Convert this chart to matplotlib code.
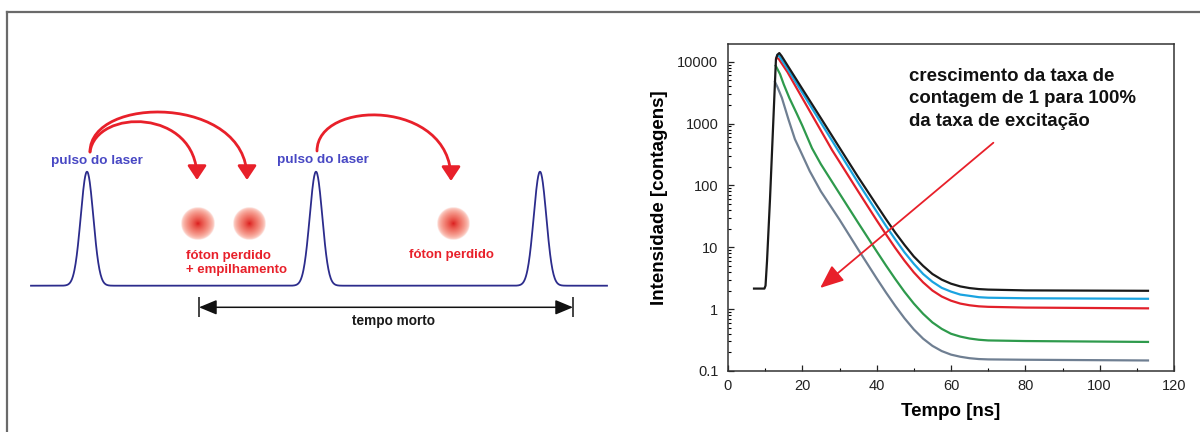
import numpy as np
import matplotlib
matplotlib.use("Agg")
import matplotlib.pyplot as plt
from matplotlib.path import Path
from matplotlib.patches import FancyArrowPatch
from matplotlib.lines import Line2D
from matplotlib.ticker import FixedLocator, LogLocator, NullFormatter

plt.rcParams['font.family'] = ['Liberation Sans', 'DejaVu Sans']

# ---------------- data (right panel) ----------------
black_t = [7, 9.8, 10.1, 10.5, 11.3, 12.9, 13.3, 13.8, 14.4, 16, 20, 25, 30, 35, 40, 42.5, 45, 47.5, 50, 52.5, 55, 57.5, 60, 62.5, 65, 67.5, 70, 80, 90, 113]
black_y = [2.15, 2.15, 2.4, 6, 60, 11000, 13000, 13800, 12400, 8720, 3630, 1220, 408, 137, 48, 28.5, 17.3, 10.9, 7.1, 5.0, 3.7, 3.0, 2.58, 2.33, 2.19, 2.11, 2.07, 2.01, 2.0, 1.98]

cyan_t = [13.2, 13.8, 16, 20, 25, 30, 35, 40, 42.5, 45, 47.5, 50, 52.5, 55, 57.5, 60, 62.5, 65, 67.5, 70, 80, 113]
cyan_y = [12600, 12300, 7710, 3160, 1033, 338, 111, 37.8, 22.2, 13.4, 8.26, 5.4, 3.70, 2.77, 2.21, 1.92, 1.72, 1.64, 1.56, 1.53, 1.50, 1.47]

red_t = [13.0, 13.6, 16, 20, 25, 28, 30, 35, 40, 42.5, 45, 47.5, 50, 52.5, 55, 57.5, 60, 62.5, 65, 67.5, 70, 80, 113]
red_y = [11500, 11200, 6800, 2580, 770, 373, 241, 80.5, 27.3, 16.2, 9.75, 6.06, 3.93, 2.71, 2.0, 1.60, 1.37, 1.23, 1.155, 1.11, 1.09, 1.06, 1.03]

green_t = [12.83, 14, 15, 16.5, 18.5, 20, 22.6, 25, 30, 35, 40, 42.5, 45, 47.5, 50, 52.5, 55, 57.5, 60, 62.5, 65, 67.5, 70, 80, 113]
green_y = [8600, 6300, 4300, 2600, 1450, 925, 400, 220, 74, 25, 8.6, 5.09, 3.07, 1.90, 1.23, 0.84, 0.61, 0.48, 0.40, 0.36, 0.335, 0.32, 0.312, 0.305, 0.295]

gray_t = [12.65, 13.3, 14.5, 16.3, 18, 19.4, 22, 25, 30, 35, 40, 42.5, 45, 47.5, 50, 52.5, 55, 57.5, 60, 62.5, 65, 67.5, 70, 80, 113]
gray_y = [4700, 3900, 2600, 1150, 560, 370, 170, 80, 28, 9.27, 3.14, 1.86, 1.13, 0.71, 0.47, 0.333, 0.255, 0.21, 0.184, 0.170, 0.161, 0.156, 0.154, 0.152, 0.148]

y_ticks = [0.1, 1, 10, 100, 1000, 10000]
y_ticklabels = ['0.1', '1', '10', '100', '1000', '10000']
x_ticks = [0, 20, 40, 60, 80, 100, 120]

annot_text = "crescimento da taxa de\ncontagem de 1 para 100%\nda taxa de excitação"
arrow_from = (71.4, 490)
arrow_to = (24.8, 2.2)

# ---------------- data (left schematic) ----------------
pulse_centers = [87, 316, 540]
laser_labels = ["pulso do laser", "pulso do laser"]
photon_centers = [197.6, 249.8, 453.4]
photon_labels = ["fóton perdido\n+ empilhamento", "fóton perdido"]
dead_time_label = "tempo morto"

RED = '#e8202a'

fig = plt.figure(figsize=(12, 4.32), dpi=100)

# outer frame
fig.add_artist(Line2D([7/1200, 1.0], [1-12/432, 1-12/432], transform=fig.transFigure, color='#6a6a6a', lw=1.6))
fig.add_artist(Line2D([7/1200, 7/1200], [0, 1-12/432], transform=fig.transFigure, color='#6a6a6a', lw=1.6))

# ---------------- left schematic ----------------
ax0 = fig.add_axes([0, 0, 620/1200, 1])
ax0.axis('off')

baseline = 285.7
height = 114
sigma = 6.3
xs = np.linspace(31, 607, 1500)
trace = np.full_like(xs, baseline)
for c in pulse_centers:
    trace -= height * np.exp(-(xs - c) ** 2 / (2 * sigma ** 2))
ax0.plot(xs, trace, color='#2c2c8c', lw=1.3)

# laser labels
ax0.text(97, 161, laser_labels[0], color='#4848c4', fontsize=9.7, fontweight='bold', ha='center', va='center')
ax0.text(323, 160, laser_labels[1], color='#4848c4', fontsize=9.7, fontweight='bold', ha='center', va='center')

# photon blobs (radial gradient)
n = 81
g = np.linspace(-1, 1, n)
X, Y = np.meshgrid(g, g)
R = np.sqrt(X ** 2 + Y ** 2)
img = np.zeros((n, n, 4))
inner = np.array([0.84, 0.06, 0.08])
outer = np.array([0.96, 0.42, 0.32])
mix = np.clip(R, 0, 1)[..., None] ** 0.5
img[..., :3] = inner * (1 - mix) + outer * mix
img[..., 3] = np.clip(1 - R, 0, 1) ** 0.4
rad = 16.5
for cx in photon_centers:
    ax0.imshow(img, extent=(cx - rad, cx + rad, 223.3 + rad, 223.3 - rad), aspect='auto', zorder=2, interpolation='bilinear')
ax0.set_xlim(0, 620)
ax0.set_ylim(432, 0)

# photon labels
ax0.text(186, 263, photon_labels[0], color=RED, fontsize=9.5, fontweight='bold', ha='left', va='center', linespacing=1.25)
ax0.text(451.5, 255, photon_labels[1], color=RED, fontsize=9.5, fontweight='bold', ha='center', va='center')

# curved arrows
def curved(p0, p1, p2, p3):
    path = Path([p0, p1, p2, p3], [Path.MOVETO, Path.CURVE4, Path.CURVE4, Path.CURVE4])
    arr = FancyArrowPatch(path=path, arrowstyle='-|>,head_length=0.45,head_width=0.3',
                          mutation_scale=19, color=RED, lw=2.0, shrinkA=0, shrinkB=0,
                          transform=ax0.transData, zorder=3)
    ax0.add_patch(arr)

curved((90, 152), (90, 95), (247, 95), (247, 180))
curved((90, 152), (96, 108), (197, 108), (197, 180))
curved((317, 151), (317, 99), (451, 99), (451, 181))

# dead time arrow
ax0.annotate('', xy=(199, 307.3), xytext=(573, 307.3),
             arrowprops=dict(arrowstyle='<|-|>,head_length=0.6,head_width=0.25', mutation_scale=18,
                             color='#111111', lw=1.1, shrinkA=0, shrinkB=0))
ax0.vlines([199, 573], 297, 317, color='#111111', lw=1.1)
ax0.text(393, 321, dead_time_label, color='#1a1a1a', fontsize=9.8, fontweight='bold', ha='center', va='center')

# ---------------- right plot ----------------
ax = fig.add_axes([728/1200, 1 - 371/432, (1174 - 728)/1200, (371 - 43.5)/432])
series = [
    (gray_t, gray_y, '#6f7f92'),
    (green_t, green_y, '#2e9a4c'),
    (red_t, red_y, '#e2202a'),
    (cyan_t, cyan_y, '#1aa3e0'),
    (black_t, black_y, '#1a1a1a'),
]
for t, y, c in series:
    ax.plot(t, y, color=c, lw=1.6, solid_joinstyle='round')

ax.set_yscale('log')
ax.set_xlim(0, 120)
ax.set_ylim(0.1, 19700)
ax.yaxis.set_major_locator(FixedLocator(y_ticks))
ax.set_yticklabels(y_ticklabels)
ax.yaxis.set_minor_locator(LogLocator(base=10, subs=np.arange(2, 10)))
ax.yaxis.set_minor_formatter(NullFormatter())
ax.set_xticks(x_ticks)
ax.set_xticklabels([str(v) for v in x_ticks])
ax.set_xticks(np.arange(10, 120, 20), minor=True)
ax.tick_params(axis='both', which='major', direction='in', length=4, width=0.9, labelsize=10.5, colors='#222222')
ax.tick_params(axis='both', which='minor', direction='in', length=2.5, width=0.8)
ax.tick_params(axis='y', which='major', pad=7)
ax.tick_params(axis='x', which='major', pad=6)
for s in ax.spines.values():
    s.set_color('#333333')
    s.set_linewidth(1.1)

ax.set_xlabel('Tempo [ns]', fontsize=13.5, fontweight='bold', labelpad=7)
ax.set_ylabel('Intensidade [contagens]', fontsize=13.5, fontweight='bold')
ax.yaxis.set_label_coords(-0.135, 0.53)

ax.text(48.7, 8000, annot_text, fontsize=13.4, fontweight='bold', ha='left', va='top', color='#111111', linespacing=1.42)

ax.annotate('', xy=arrow_to, xytext=arrow_from,
            arrowprops=dict(arrowstyle='-|>,head_length=0.6,head_width=0.25', mutation_scale=24,
                            color=RED, lw=1.3, shrinkA=0, shrinkB=0), zorder=5)

fig.savefig('out.png', dpi=100)
